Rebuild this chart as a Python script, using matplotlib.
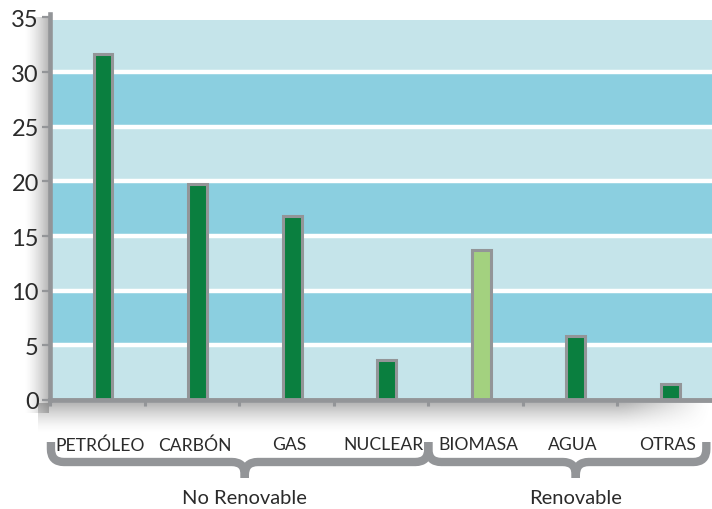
import numpy as np
import matplotlib
matplotlib.use("Agg")
import matplotlib.pyplot as plt
import matplotlib.transforms as mtransforms
from matplotlib.path import Path
from matplotlib.patches import PathPatch

# Data: share of world energy supply by source (%)
categories = ["PETRÓLEO", "CARBÓN", "GAS", "NUCLEAR", "BIOMASA", "AGUA", "OTRAS"]
shares = [31.7, 19.8, 16.8, 3.7, 13.7, 5.9, 1.5]
highlighted = ["BIOMASA"]
group_names = ["No Renovable", "Renovable"]
group_sizes = [4, 3]
y_ticks = [0, 5, 10, 15, 20, 25, 30, 35]

GRAY = "#939598"
DARK_GREEN = "#0A7F3F"
LIGHT_GREEN = "#A3D17F"
BAND_LIGHT = "#C5E4EA"
BAND_DARK = "#8BCFE0"
TEXT = "#2b2b2b"
FONT = "Lato"

W, H = 712, 510
fig = plt.figure(figsize=(W / 100, H / 100), dpi=100)

# Overlay axes in pixel coordinates for shadows, braces and group labels
ov = fig.add_axes([0, 0, 1, 1])
ov.set_xlim(0, W)
ov.set_ylim(H, 0)
ov.axis("off")
ov.set_zorder(0)

# Main axes
x0_px, y0_px, ytop_px = 50, 401, 15
px_per_unit = 10.93
ax = fig.add_axes([x0_px / W, (H - y0_px) / H, 1 - x0_px / W, (y0_px - ytop_px) / H])
ax.set_zorder(1)
ax.patch.set_alpha(0)

n = len(categories)
x = np.arange(n)
ax.set_xlim(-0.56, n - 0.56)
ax.set_ylim(0, (y0_px - ytop_px) / px_per_unit)

# Soft shadows along the axes
grad = np.linspace(0, 1, 64)
left_sh = np.zeros((2, 64, 4))
left_sh[..., :3] = 0.42
left_sh[..., 3] = (grad ** 1.5 * 0.5)[None, :]
ov.imshow(left_sh, extent=(24, 49, 414, 18), aspect="auto", interpolation="bicubic", zorder=0)
bot_sh = np.zeros((64, 64, 4))
bot_sh[..., :3] = 0.42
fade_y = (1 - grad) ** 1.5 * 0.5
fade_x = np.clip((1 - grad) * 8, 0, 1)
bot_sh[..., 3] = fade_y[:, None] * fade_x[None, :]
ov.imshow(bot_sh, extent=(38, 712, 434, 404), aspect="auto", interpolation="bicubic", zorder=0)

# Background bands and white separators
band_top = 34.8
for k in range(7):
    lo, hi = 5 * k, min(5 * k + 5, band_top)
    ax.axhspan(lo, hi, color=BAND_LIGHT if k % 2 == 0 else BAND_DARK, lw=0, zorder=0)
for v in y_ticks[1:-1]:
    ax.axhline(v, color="white", lw=3.2, zorder=1)

# Bars
colors = [LIGHT_GREEN if c in highlighted else DARK_GREEN for c in categories]
ax.bar(x, shares, width=0.2, color=colors, edgecolor=GRAY, linewidth=2.2, zorder=3)

# Axes styling
for side in ("top", "right"):
    ax.spines[side].set_visible(False)
ax.spines["left"].set_color(GRAY)
ax.spines["left"].set_linewidth(3.3)
ax.spines["bottom"].set_color(GRAY)
ax.spines["bottom"].set_linewidth(3.5)
ax.spines["left"].set_zorder(5)
ax.spines["bottom"].set_zorder(5)

ax.set_yticks(y_ticks)
ax.set_yticklabels([str(v) for v in y_ticks], fontsize=17, color=TEXT, family=FONT)
ax.tick_params(axis="y", direction="out", length=6, width=1.6, color=GRAY, pad=2)

ax.set_xticks(x)
ax.set_xticklabels(categories, fontsize=12.6, color=TEXT, family=FONT)
ax.tick_params(axis="x", which="major", length=0, pad=26)
shift = mtransforms.ScaledTranslation(-3 / 100, 0, fig.dpi_scale_trans)
for lbl in ax.get_xticklabels():
    lbl.set_transform(lbl.get_transform() + shift)
ax.set_xticks(np.arange(n) - 0.56, minor=True)
ax.tick_params(axis="x", which="minor", direction="out", length=4.5, width=2.2, color=GRAY)


def brace(xa, xb, xm, ytop, yh, ytip, r):
    verts = [
        (xa, ytop), (xa, yh - r), (xa, yh), (xa + r, yh), (xm - r, yh), (xm, yh), (xm, yh + r), (xm, ytip),
        (xb, ytop), (xb, yh - r), (xb, yh), (xb - r, yh), (xm + r, yh), (xm, yh), (xm, yh + r), (xm, ytip),
    ]
    codes = [Path.MOVETO, Path.LINETO, Path.CURVE3, Path.CURVE3, Path.LINETO, Path.CURVE3, Path.CURVE3, Path.LINETO] * 2
    return PathPatch(Path(verts, codes), fill=False, edgecolor=GRAY, lw=6.0, capstyle="butt", joinstyle="round", zorder=2)


# Group braces and labels, spanning the category boundaries
to_px = lambda v: x0_px + (v + 0.56) * (W - x0_px) / n
edges = [-0.56 + 0.01]
acc = 0
for s in group_sizes:
    acc += s
    edges.append(acc - 0.56)
edges[-1] = n - 0.56 - 0.06
for g, name in enumerate(group_names):
    xa, xb = to_px(edges[g]), to_px(edges[g + 1])
    start = sum(group_sizes[:g])
    xm = (to_px(start) + to_px(start + group_sizes[g] - 1)) / 2
    ov.add_patch(brace(xa, xb, xm, 443, 463, 479, 13))
    ov.text(xm, 499, name, ha="center", va="center", fontsize=14.5, color=TEXT, family=FONT)

fig.savefig("out.png", dpi=100)
